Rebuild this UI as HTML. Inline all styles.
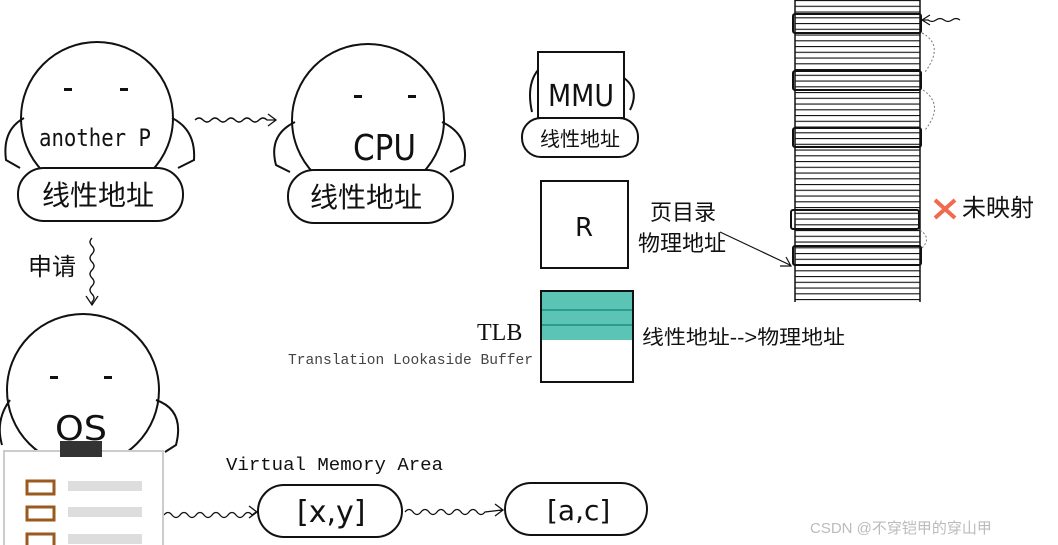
<!DOCTYPE html>
<html><head><meta charset="utf-8"><style>
html,body{margin:0;padding:0;background:#fff;}
svg{display:block}
text{font-family:"Liberation Sans","Noto Sans CJK SC",sans-serif;fill:#111}
</style></head><body>
<svg width="1058" height="545" viewBox="0 0 1058 545" xmlns="http://www.w3.org/2000/svg">
<defs>
<pattern id="st" x="0" y="0" width="10" height="5.75" patternUnits="userSpaceOnUse">
<line x1="0" y1="0.5" x2="10" y2="0.5" stroke="#111" stroke-width="1.2"/>
</pattern>
</defs>
<g fill="none" stroke="#111" stroke-width="2">
<circle cx="97" cy="118" r="76"/>
<path d="M24 118 Q2 130 6 160 L20 168 M172 118 Q196 130 194 160 L178 168"/>
<circle cx="368" cy="120" r="76"/>
<path d="M295 122 Q268 135 276 165 L290 172 M442 122 Q470 135 464 165 L450 172"/>
<circle cx="83" cy="390" r="76"/>
<path d="M10 400 Q-5 420 2 445 M156 400 Q185 410 176 445 L165 452"/>
<path d="M195 120 q4 -4 8 0 t8 0 t8 0 t8 0 t8 0 t8 0 t8 0 t8 0 t8 0 L275 120 M268 114 L276 120 L268 126" stroke-width="1.3"/>
<path d="M92 238 q-4 4 0 8 t0 8 t0 8 t0 8 t0 8 t0 8 t0 8 t0 8 L92 304 M86 296 L92 305 L98 296" stroke-width="1.3"/>
<path d="M164 515 q4 -5 8 0 t8 0 t8 0 t8 0 t8 0 t8 0 t8 0 t8 0 t8 0 t8 0 t8 0 L256 512 M249 506 L257 512 L249 518" stroke-width="1.3"/>
<path d="M405 512 q4 -5 8 0 t8 0 t8 0 t8 0 t8 0 t8 0 t8 0 t8 0 t8 0 t8 0 L502 510 M495 504 L503 510 L495 516" stroke-width="1.3"/>
<path d="M960 20 q-4 -3 -8 0 t-8 0 t-8 0 t-8 0 L923 20 M930 15 L922 20 L930 25" stroke-width="1.2"/>
<path d="M720 232 L790 265 M780 266 L791 266 L786 257" stroke-width="1.2"/>
</g>
<g fill="#111">
<rect x="64" y="88" width="8" height="3"/><rect x="120" y="88" width="8" height="3"/>
<rect x="354" y="95" width="8" height="3"/><rect x="408" y="95" width="8" height="3"/>
<rect x="50" y="376" width="8" height="3"/><rect x="104" y="376" width="8" height="3"/>
</g>
<text x="39" y="146" font-size="24" textLength="112" lengthAdjust="spacingAndGlyphs" style="font-family:'DejaVu Sans Mono',monospace">another P</text>
<text x="353" y="160" font-size="36" textLength="63" lengthAdjust="spacingAndGlyphs" style="font-family:'DejaVu Sans',sans-serif">CPU</text>
<text x="55" y="440" font-size="34" textLength="52" lengthAdjust="spacingAndGlyphs" style="font-family:'DejaVu Sans',sans-serif">OS</text>
<g fill="#fff" stroke="#111" stroke-width="2">
<rect x="18" y="168" width="165" height="53" rx="26"/>
<rect x="288" y="170" width="165" height="53" rx="26"/>
<rect x="538" y="52" width="86" height="66"/>
<rect x="522" y="118" width="116" height="39" rx="19"/>
<rect x="541" y="181" width="87" height="87"/>
<rect x="258" y="485" width="144" height="52" rx="26"/>
<rect x="505" y="483" width="142" height="52" rx="26"/>
</g>
<path d="M538 70 Q526 85 532 112 M624 78 Q640 90 630 110" fill="none" stroke="#111" stroke-width="2"/>
<text x="42" y="205" font-size="28">线性地址</text>
<text x="310" y="207" font-size="28">线性地址</text>
<text x="548" y="106" font-size="30" textLength="66" lengthAdjust="spacingAndGlyphs" style="font-family:'DejaVu Sans',sans-serif">MMU</text>
<text x="540" y="146" font-size="20">线性地址</text>
<text x="575" y="236" font-size="26" style="font-family:'DejaVu Sans',sans-serif">R</text>
<text x="650" y="220" font-size="22">页目录</text>
<text x="638" y="251" font-size="22">物理地址</text>
<rect x="541" y="291" width="92" height="49" fill="#5bc4b4"/>
<line x1="541" y1="310" x2="633" y2="310" stroke="#2a9e8c" stroke-width="2"/>
<line x1="541" y1="325" x2="633" y2="325" stroke="#2a9e8c" stroke-width="2"/>
<rect x="541" y="291" width="92" height="91" fill="none" stroke="#111" stroke-width="2"/>
<text x="477" y="340" font-size="24" style="font-family:'Liberation Serif',serif">TLB</text>
<text x="288" y="364" font-size="15" textLength="245" lengthAdjust="spacingAndGlyphs" style="font-family:'Liberation Mono',monospace;fill:#444">Translation Lookaside Buffer</text>
<text x="642" y="344" font-size="20" textLength="203" lengthAdjust="spacingAndGlyphs">线性地址--&gt;物理地址</text>
<text x="28" y="275" font-size="24">申请</text>
<text x="226" y="470" font-size="18" textLength="217" lengthAdjust="spacingAndGlyphs" style="font-family:'Liberation Mono',monospace">Virtual Memory Area</text>
<text x="297" y="522" font-size="30" style="font-family:'DejaVu Sans',sans-serif">[x,y]</text>
<text x="547" y="520" font-size="28" style="font-family:'DejaVu Sans',sans-serif">[a,c]</text>
<rect x="4" y="451" width="159" height="100" fill="#fff" stroke="#ccc" stroke-width="2"/>
<rect x="60" y="441" width="42" height="16" fill="#333"/>
<g fill="none" stroke="#9a5a1e" stroke-width="3">
<rect x="27" y="481" width="27" height="13"/><rect x="27" y="507" width="27" height="13"/><rect x="27" y="534" width="27" height="13"/>
</g>
<g fill="#ddd"><rect x="68" y="481" width="74" height="10"/><rect x="68" y="507" width="74" height="10"/><rect x="68" y="534" width="74" height="10"/></g>
<rect x="795" y="0" width="125" height="302" fill="url(#st)"/>
<line x1="795" y1="0" x2="795" y2="302" stroke="#111" stroke-width="1.5"/>
<line x1="920" y1="0" x2="920" y2="302" stroke="#111" stroke-width="1.5"/>
<g fill="none" stroke="#111" stroke-width="2">
<rect x="793" y="14" width="128" height="19" rx="2"/>
<rect x="793" y="71" width="128" height="19" rx="2"/>
<rect x="793" y="128" width="128" height="19" rx="2"/>
<rect x="791" y="210" width="128" height="19" rx="2"/>
<rect x="793" y="246" width="128" height="19" rx="2"/>
</g>
<g fill="none" stroke="#777" stroke-width="1" stroke-dasharray="2,2">
<path d="M922 33 Q945 45 925 72 M923 90 Q945 105 925 130 M920 230 Q932 238 922 248"/>
</g>
<path d="M935 200 L955 218 M955 200 L935 218" stroke="#f06a50" stroke-width="4"/>
<text x="962" y="216" font-size="24">未映射</text>
<text x="810" y="533" font-size="15" style="fill:#bbb">CSDN @不穿铠甲的穿山甲</text>
</svg>
</body></html>
